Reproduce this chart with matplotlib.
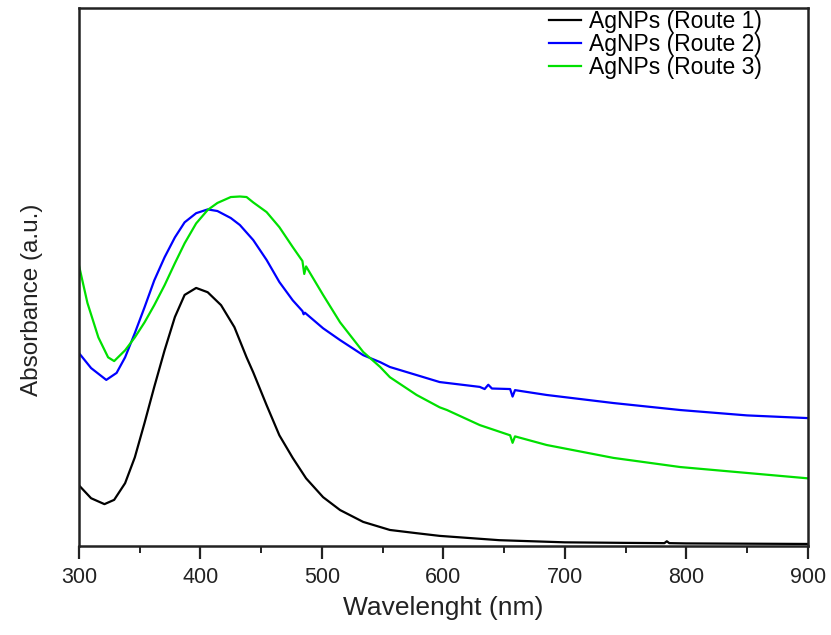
import matplotlib
matplotlib.use("Agg")
import matplotlib.pyplot as plt
from matplotlib.ticker import MultipleLocator

plt.rcParams['font.family'] = ['Liberation Sans', 'DejaVu Sans']

# Route 1 (black)
wl1 = [300, 310, 321, 329, 338, 346, 354, 362, 370.5, 379, 387, 396.5, 406, 417, 428,
       438, 443.5, 454.5, 465, 476, 487, 501, 515, 534, 556, 578, 597, 646, 700, 750,
       782, 784, 786, 800, 900]
abs1 = [0.113, 0.089, 0.078, 0.086, 0.117, 0.165, 0.229, 0.296, 0.364, 0.426, 0.467,
        0.480, 0.472, 0.448, 0.407, 0.351, 0.323, 0.262, 0.206, 0.164, 0.126, 0.091,
        0.067, 0.045, 0.030, 0.024, 0.019, 0.011, 0.007, 0.006, 0.0055, 0.009, 0.0055,
        0.005, 0.004]

# Route 2 (blue)
wl2 = [300, 310, 322.5, 331, 338, 346, 354, 362, 370.5, 379, 387, 396.5, 406, 414, 425,
       432.5, 438, 443.5, 454.5, 465, 476, 484, 485, 486, 501, 515, 534, 548, 556, 578,
       597, 630, 634, 637, 640, 655, 657, 659, 685, 740, 795, 850, 900]
abs2 = [0.359, 0.331, 0.309, 0.322, 0.351, 0.396, 0.444, 0.494, 0.537, 0.574, 0.602,
        0.619, 0.626, 0.623, 0.610, 0.597, 0.583, 0.569, 0.532, 0.491, 0.457, 0.437,
        0.431, 0.434, 0.405, 0.383, 0.355, 0.342, 0.333, 0.318, 0.305, 0.296, 0.292,
        0.300, 0.293, 0.292, 0.278, 0.290, 0.281, 0.266, 0.253, 0.243, 0.238]

# Route 3 (green)
wl3 = [300, 307, 316, 324, 329, 338, 346, 354, 362, 370.5, 379, 387, 396.5, 406, 414,
       425, 432.5, 438, 443.5, 454.5, 465, 476, 484, 485.5, 487, 501, 515, 534, 548,
       556, 578, 597, 603, 630, 655, 657, 659, 685, 740, 795, 850, 900]
abs3 = [0.522, 0.452, 0.388, 0.351, 0.344, 0.364, 0.388, 0.416, 0.448, 0.485, 0.526,
        0.563, 0.600, 0.625, 0.638, 0.649, 0.650, 0.649, 0.639, 0.621, 0.593, 0.556,
        0.530, 0.506, 0.520, 0.467, 0.416, 0.361, 0.333, 0.314, 0.281, 0.258, 0.253,
        0.225, 0.206, 0.192, 0.204, 0.188, 0.164, 0.147, 0.136, 0.126]

labels = ["AgNPs (Route 1)", "AgNPs (Route 2)", "AgNPs (Route 3)"]
colors = ["#000000", "#0000ff", "#00e000"]

fig = plt.figure(figsize=(8.31, 6.35), dpi=100)
ax = fig.add_axes([0.095, 0.140, 0.877, 0.847])

for wl, ab, lab, c in zip([wl1, wl2, wl3], [abs1, abs2, abs3], labels, colors):
    ax.plot(wl, ab, color=c, lw=1.6, label=lab, solid_joinstyle='round')

ax.set_xlim(300, 900)
ax.set_ylim(0, 1.0)
ax.xaxis.set_major_locator(MultipleLocator(100))
ax.xaxis.set_minor_locator(MultipleLocator(50))
ax.set_yticks([])
ax.tick_params(axis='x', which='major', direction='out', length=9, width=1.6,
               labelsize=15.5, pad=6, color='#222222', labelcolor='#222222')
ax.tick_params(axis='x', which='minor', direction='out', length=5, width=1.4,
               color='#222222')
for s in ax.spines.values():
    s.set_linewidth(1.8)
    s.set_color('#222222')

ax.set_xlabel("Wavelenght (nm)", fontsize=19, labelpad=6, color='#222222')
ax.set_ylabel("Absorbance (a.u.)", fontsize=17.5, color='#222222')
ax.yaxis.set_label_coords(-0.049, 0.457)

leg = ax.legend(loc='upper right', bbox_to_anchor=(0.943, 1.006), frameon=False,
                fontsize=16.5, handlelength=1.4, handletextpad=0.35,
                labelspacing=0.0, borderaxespad=0.0, borderpad=0.2)

fig.savefig("out.png", dpi=100)
